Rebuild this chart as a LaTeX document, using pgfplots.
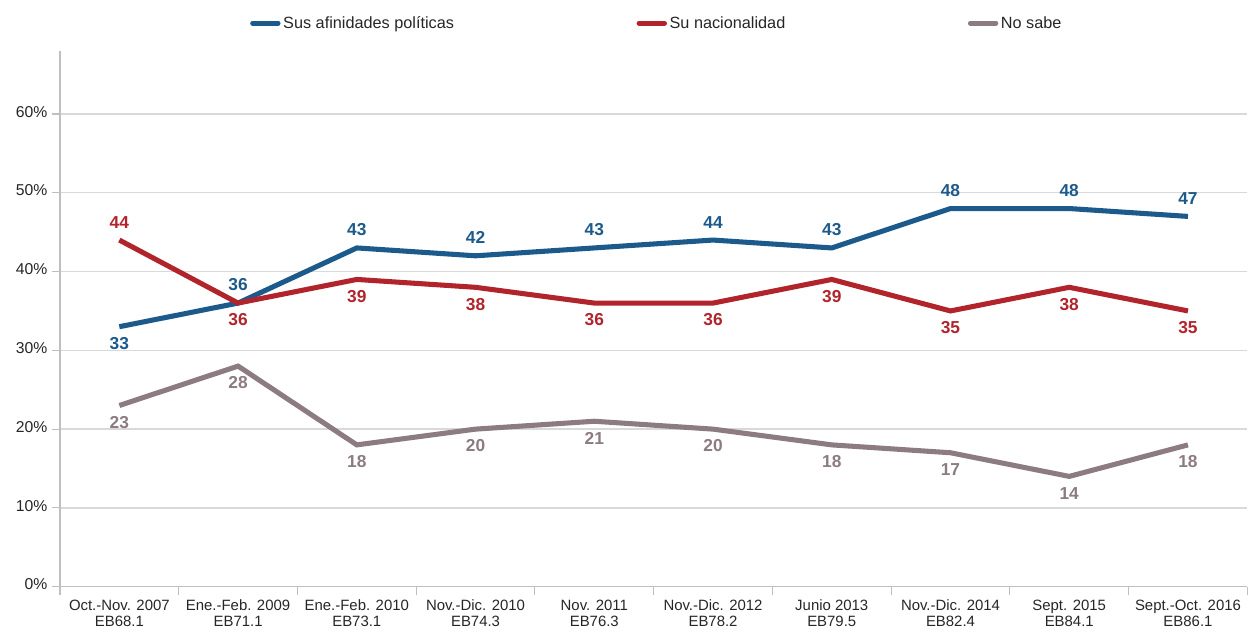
\documentclass[border=0pt]{standalone}
\usepackage{fontspec}
\setmainfont{Liberation Sans}
\usepackage{pgfplots}
\pgfplotsset{compat=1.18}
\definecolor{cblue}{HTML}{1D5A8C}
\definecolor{cred}{HTML}{B2242C}
\definecolor{cgray}{HTML}{8C7B80}
\definecolor{cgrid}{HTML}{D9D9D9}
\definecolor{caxis}{HTML}{BFBFBF}
\definecolor{ctext}{HTML}{262626}
\begin{document}
\begin{tikzpicture}
\begin{axis}[
  scale only axis,
  width=891pt, height=402pt,
  xmin=-0.5, xmax=9.5,
  ymin=0, ymax=68,
  axis x line*=bottom, axis y line*=left,
  axis line style={-, draw=caxis, line width=0.8pt},
  ytick={0,10,...,60},
  yticklabels={0\%,10\%,20\%,30\%,40\%,50\%,60\%},
  ymajorgrids,
  grid style={draw=cgrid, line width=1pt},
  major tick length=6pt,
  ytick style={draw=caxis, line width=0.8pt},
  tick align=outside,
  xtick={0,...,9},
  major x tick style={draw=none},
  minor xtick={-0.5,0.5,...,9.5},
  minor x tick style={draw=caxis, line width=0.8pt},
  minor tick length=6pt,
  xticklabels={{Oct.-Nov. 2007\\EB68.1},{Ene.-Feb. 2009\\EB71.1},{Ene.-Feb. 2010\\EB73.1},{Nov.-Dic. 2010\\EB74.3},{Nov. 2011\\EB76.3},{Nov.-Dic. 2012\\EB78.2},{Junio 2013\\EB79.5},{Nov.-Dic. 2014\\EB82.4},{Sept. 2015\\EB84.1},{Sept.-Oct. 2016\\EB86.1}},
  xticklabel style={align=center, font=\fontsize{11.2}{12}\selectfont, text=ctext},
  yticklabel style={font=\fontsize{11.8}{12}\selectfont, text=ctext},
  typeset ticklabels with strut,
  xtick pos=bottom, ytick pos=left,
  legend columns=3,
  legend style={draw=none, fill=none, at={(0.1566,1.052)}, anchor=west,
    font=\fontsize{12.2}{14}\selectfont, text=ctext,
    /tikz/every even column/.append style={column sep=135pt}},
  legend image code/.code={\draw[#1, line cap=round] (0pt,0pt) -- (19pt,0pt);},
  every node near coord/.append style={font=\bfseries\fontsize{13}{15}\selectfont},
  clip=false,
]
\addplot[cblue, line width=3.8pt] coordinates {(0,33)(1,36)(2,43)(3,42)(4,43)(5,44)(6,43)(7,48)(8,48)(9,47)};
\addlegendentry{Sus afinidades políticas}
\addplot[cred, line width=3.8pt] coordinates {(0,44)(1,36)(2,39)(3,38)(4,36)(5,36)(6,39)(7,35)(8,38)(9,35)};
\addlegendentry{Su nacionalidad}
\addplot[cgray, line width=3.8pt] coordinates {(0,23)(1,28)(2,18)(3,20)(4,21)(5,20)(6,18)(7,17)(8,14)(9,18)};
\addlegendentry{No sabe}
% labels
\addplot[draw=none, forget plot, nodes near coords, point meta=explicit symbolic,
  every node near coord/.append style={text=cblue, anchor=south, yshift=5.5pt}]
  coordinates {(1,36)[36](2,43)[43](3,42)[42](4,43)[43](5,44)[44](6,43)[43](7,48)[48](8,48)[48](9,47)[47]};
\addplot[draw=none, forget plot, nodes near coords, point meta=explicit symbolic,
  every node near coord/.append style={text=cblue, anchor=north, yshift=-4.5pt}]
  coordinates {(0,33)[33]};
\addplot[draw=none, forget plot, nodes near coords, point meta=explicit symbolic,
  every node near coord/.append style={text=cred, anchor=south, yshift=5.5pt}]
  coordinates {(0,44)[44]};
\addplot[draw=none, forget plot, nodes near coords, point meta=explicit symbolic,
  every node near coord/.append style={text=cred, anchor=north, yshift=-4.5pt}]
  coordinates {(1,36)[36](2,39)[39](3,38)[38](4,36)[36](5,36)[36](6,39)[39](7,35)[35](8,38)[38](9,35)[35]};
\addplot[draw=none, forget plot, nodes near coords, point meta=explicit symbolic,
  every node near coord/.append style={text=cgray, anchor=north, yshift=-4.5pt}]
  coordinates {(0,23)[23](1,28)[28](2,18)[18](3,20)[20](4,21)[21](5,20)[20](6,18)[18](7,17)[17](8,14)[14](9,18)[18]};
\end{axis}
\path[use as bounding box] (-45pt,-37.5pt) rectangle (891pt,440.25pt);
\end{tikzpicture}
\end{document}
